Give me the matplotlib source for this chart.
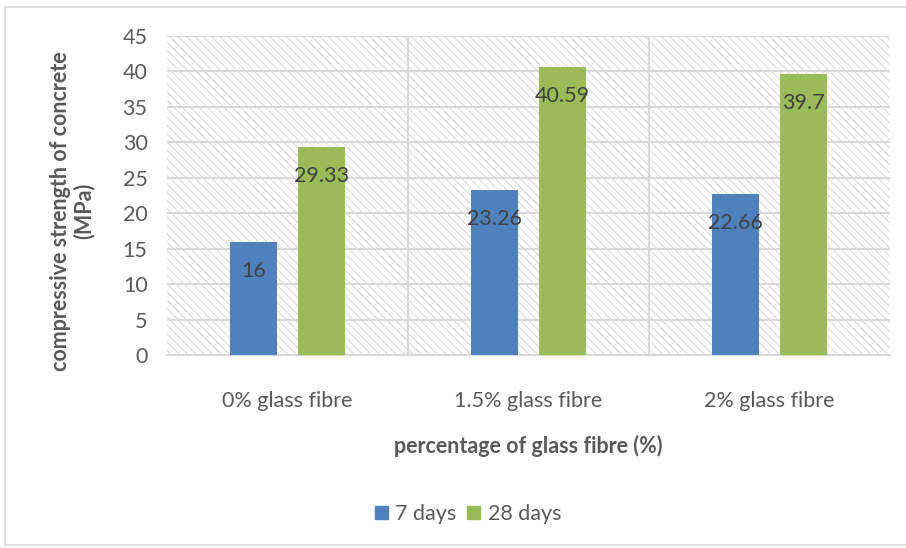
import matplotlib
matplotlib.use("Agg")
import matplotlib.pyplot as plt
from matplotlib.patches import Rectangle, Patch
import numpy as np

categories = ["0% glass fibre", "1.5% glass fibre", "2% glass fibre"]
days7 = [16, 23.26, 22.66]
days28 = [29.33, 40.59, 39.7]
labels7 = ["16", "23.26", "22.66"]
labels28 = ["29.33", "40.59", "39.7"]
series_names = ["7 days", "28 days"]

plt.rcParams['font.family'] = ['Lato', 'DejaVu Sans']
plt.rcParams['hatch.linewidth'] = 0.8

BLUE = "#4F81BD"
GREEN = "#9BBB59"
TXT = "#595959"
GRID = "#D9D9D9"
FS = 15.5

fig = plt.figure(figsize=(9.06, 5.48), dpi=100)
W, H = 906, 548
ax = fig.add_axes([167 / W, 1 - 355 / H, (890 - 167) / W, (355 - 36) / H])

# chart border
fig.patches.append(Rectangle((5 / W, 3 / H), 1.2, 1 - 10 / H, transform=fig.transFigure,
                             fill=False, edgecolor=GRID, linewidth=1.2))

x = np.arange(len(categories))
ax.set_xlim(-0.5, 2.5)
ax.set_ylim(0, 45)

# hatched plot background
ax.add_patch(Rectangle((0, 0), 1, 1, transform=ax.transAxes, facecolor="white",
                       edgecolor="#DCDCDC", hatch="\\\\\\\\", linewidth=0, zorder=0))

for y in range(5, 50, 5):
    ax.axhline(y, color=GRID, linewidth=1.5, zorder=1)
for xv in [0.5, 1.5]:
    ax.axvline(xv, color=GRID, linewidth=1.5, zorder=1)

bw = 0.195
off = 0.14
b1 = ax.bar(x - off, days7, bw, color=BLUE, zorder=3)
b2 = ax.bar(x + off, days28, bw, color=GREEN, zorder=3)

for bars, labs in [(b1, labels7), (b2, labels28)]:
    for b, lab in zip(bars, labs):
        ax.annotate(lab, (b.get_x() + b.get_width() / 2, b.get_height()),
                    xytext=(0, -29), textcoords="offset pixels",
                    ha="center", va="center", fontsize=FS, color="#404040", zorder=4)

for s in ["top", "right", "left"]:
    ax.spines[s].set_visible(False)
ax.spines["bottom"].set_color(GRID)
ax.spines["bottom"].set_linewidth(1.5)

ax.set_yticks(range(0, 50, 5))
ax.set_xticks(x)
ax.set_xticklabels(categories)
ax.tick_params(axis="both", length=0, labelsize=FS, labelcolor=TXT)
ax.tick_params(axis="x", pad=26)
ax.tick_params(axis="y", pad=14)

fig.text(528 / W, 1 - 446 / H, "percentage of glass fibre (%)", ha="center", va="center",
         fontsize=FS, fontweight="bold", color=TXT)
fig.text(72 / W, 1 - 211 / H, "compressive strength of concrete\n(MPa)", ha="center", va="center",
         rotation=90, fontsize=FS, fontweight="bold", color=TXT, linespacing=1.1)

handles = [Patch(color=BLUE), Patch(color=GREEN)]
fig.legend(handles, series_names, loc="center", bbox_to_anchor=(468 / W, 1 - 514 / H),
           ncol=2, frameon=False, fontsize=FS, labelcolor=TXT, handlelength=0.6,
           handleheight=0.6, handletextpad=0.35, columnspacing=0.5)

fig.savefig("out.png", dpi=100)
